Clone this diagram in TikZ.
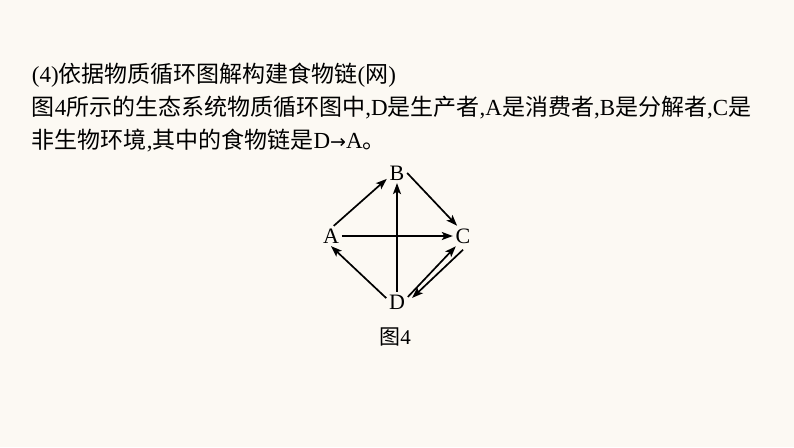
\documentclass[tikz,border=0pt]{standalone}
\usepackage{fontspec}
\setmainfont{Liberation Serif}
\newfontfamily\cjk{Noto Sans CJK SC}
\newfontfamily\sym{DejaVu Sans}
\usetikzlibrary{arrows.meta}
\definecolor{paper}{RGB}{252,249,243}
\begin{document}
\begin{tikzpicture}[x=1pt,y=-1pt,-{Stealth[length=11pt,width=8pt,inset=2.5pt]},line width=1.7pt]
\fill[paper,-] (0,0) rectangle (794,447);
\useasboundingbox (0,0) rectangle (794,447);
\tikzstyle{every node} = [inner sep=0pt, anchor=base west, font=\fontsize{23}{30}\selectfont]
\node (line1) at (31,82) {(4){\cjk 依据物质循环图解构建食物链}({\cjk 网})};
\node (line2) at (31,115) {{\cjk 图}4{\cjk 所示的生态系统物质循环图中},D{\cjk 是生产者},A{\cjk 是消费者},B{\cjk 是分解者},C{\cjk 是}};
\node (line3) at (31,148) {{\cjk 非生物环境},{\cjk 其中的食物链是}D{\sym\fontsize{19}{24}\selectfont →}A{\cjk 。}};
\tikzstyle{every node} = [inner sep=2pt, font=\fontsize{22}{24}\selectfont]
\node (B) at (397,173) {B};
\node (A) at (331,236) {A};
\node (C) at (463,236) {C};
\node (D) at (397,302) {D};
\node (fig) at (395,337) {\fontsize{21}{24}\selectfont{\cjk 图}4};
\tikzstyle{every node} = []
\draw (A.75) -- (B.210);
\draw (B.east) -- (C.120);
\draw (A.east) -- (C.west);
\draw (D.north) -- (B.south);
\draw (D.160) -- (A.south);
\draw (D.25) -- (C.235);
\draw[shorten <=5pt, shorten >=6pt] (C.290) -- (D.east);
\end{tikzpicture}
\end{document}
